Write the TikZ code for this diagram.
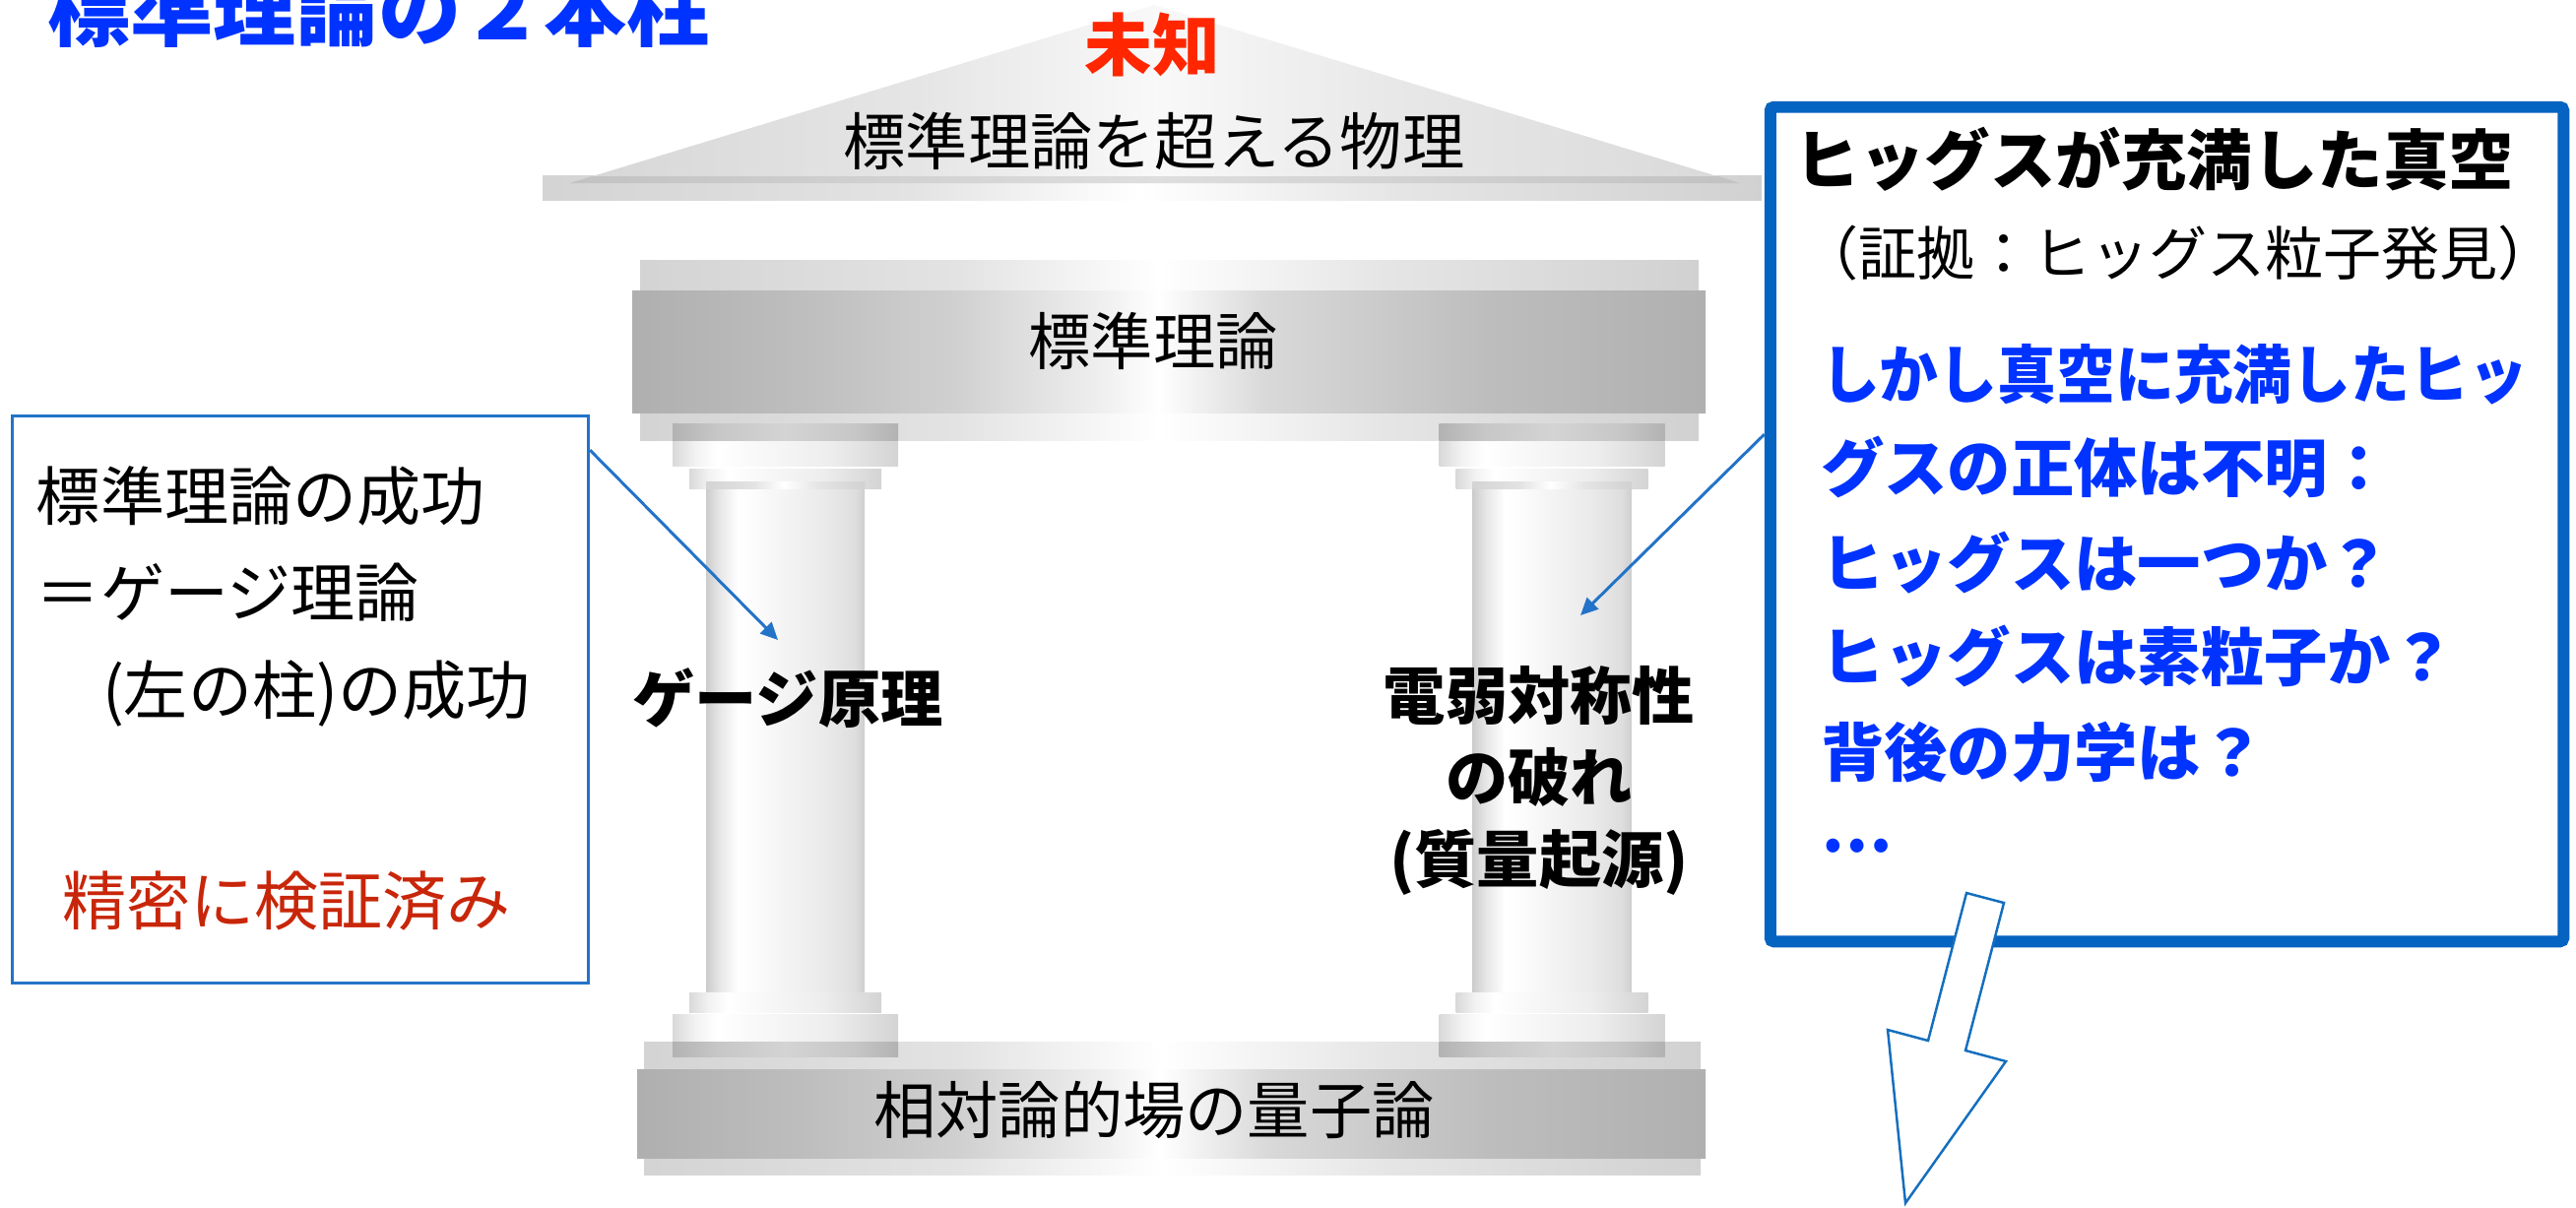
\documentclass[tikz,border=0pt]{standalone}
\usepackage{fontspec}
\usepackage{graphicx}
\setmainfont{Noto Sans CJK JP}
\usetikzlibrary{arrows.meta}

\definecolor{titleblue}{RGB}{0,51,255}
\definecolor{boxblue}{RGB}{5,99,193}
\definecolor{linkblue}{RGB}{35,115,200}
\definecolor{arrowblue}{RGB}{20,110,190}
\definecolor{unknownred}{RGB}{255,38,0}
\definecolor{checkred}{RGB}{200,38,10}

% metallic gradients (left to right), the path spans 25bp..75bp
\pgfdeclarehorizontalshading{beamdark}{100bp}{%
 rgb(0bp)=(.686,.686,.686); rgb(25bp)=(.686,.686,.686);
 rgb(33bp)=(.745,.745,.745); rgb(40bp)=(.815,.815,.82);
 rgb(47bp)=(.94,.94,.94); rgb(49.5bp)=(1,1,1);
 rgb(54.5bp)=(.85,.85,.85); rgb(65bp)=(.74,.74,.74);
 rgb(75bp)=(.69,.69,.69); rgb(100bp)=(.69,.69,.69)}
\pgfdeclarehorizontalshading{beamlight}{100bp}{%
 rgb(0bp)=(.83,.83,.83); rgb(25bp)=(.83,.83,.83);
 rgb(40bp)=(.89,.89,.89); rgb(49.5bp)=(1,1,1);
 rgb(60bp)=(.90,.90,.90); rgb(75bp)=(.82,.82,.82);
 rgb(100bp)=(.82,.82,.82)}
\pgfdeclarehorizontalshading{roof}{100bp}{%
 rgb(0bp)=(.84,.84,.84); rgb(25bp)=(.84,.84,.84);
 rgb(40bp)=(.90,.90,.90); rgb(50bp)=(.975,.975,.975);
 rgb(60bp)=(.91,.91,.91); rgb(75bp)=(.85,.85,.85);
 rgb(100bp)=(.85,.85,.85)}
\pgfdeclarehorizontalshading{roofband}{100bp}{%
 rgb(0bp)=(.76,.76,.76); rgb(25bp)=(.76,.76,.76);
 rgb(50bp)=(.87,.87,.87); rgb(75bp)=(.76,.76,.76);
 rgb(100bp)=(.76,.76,.76)}
\pgfdeclarehorizontalshading{column}{100bp}{%
 rgb(0bp)=(.80,.80,.80); rgb(25bp)=(.80,.80,.80);
 rgb(29bp)=(.90,.90,.90); rgb(35bp)=(1,1,1);
 rgb(40bp)=(.99,.99,.99); rgb(50bp)=(.955,.955,.955);
 rgb(62bp)=(.92,.92,.92); rgb(72bp)=(.87,.87,.87);
 rgb(75bp)=(.81,.81,.81); rgb(100bp)=(.81,.81,.81)}
\pgfdeclarehorizontalshading{capital}{100bp}{%
 rgb(0bp)=(.85,.85,.85); rgb(25bp)=(.85,.85,.85);
 rgb(30bp)=(.95,.95,.95); rgb(35bp)=(1,1,1);
 rgb(45bp)=(.97,.97,.97); rgb(60bp)=(.93,.93,.93);
 rgb(75bp)=(.83,.83,.83); rgb(100bp)=(.83,.83,.83)}
\pgfdeclarehorizontalshading{band}{100bp}{%
 rgb(0bp)=(.70,.70,.70); rgb(25bp)=(.70,.70,.70);
 rgb(35bp)=(.78,.78,.78); rgb(50bp)=(.83,.83,.83);
 rgb(65bp)=(.78,.78,.78); rgb(75bp)=(.70,.70,.70);
 rgb(100bp)=(.70,.70,.70)}

\newcommand\setfs[2]{\fontsize{#1}{#2}\selectfont}

\tikzset{
  txt/.style={inner sep=0pt, outer sep=0pt},
  plain/.style={txt, font=\setfs{18}{22}},
  notetext/.style={txt, anchor=west, font=\setfs{18.5}{22}},
  strong/.style={txt, font=\bfseries\setfs{18}{22}},
  question/.style={txt, anchor=west, text=titleblue, font=\bfseries\setfs{18.3}{22}},
  conn/.style={draw=linkblue, line width=0.85pt, -{Triangle[length=5pt, width=4.6pt]}},
}

\begin{document}
\begin{tikzpicture}[x=0.01cm, y=-0.01cm]
\useasboundingbox (0,0) rectangle (2616,1226);
\clip (0,0) rectangle (2616,1226);

% ---- roof ----
\shade[shading=beamlight] (551,178) rectangle (1789,203);
\shade[shading=roof] (579,186) -- (1172,5) -- (1767,186) -- cycle;
\shade[shading=roofband] (579,186) -- (601,179) -- (1745,179) -- (1767,186) -- cycle;
\node[txt, text=unknownred, font=\bfseries\setfs{19.5}{24}] (unknown) at (1170,45) {未知};
\node[plain] (beyond) at (1172,143) {標準理論を超える物理};

% ---- entablature ----
\shade[shading=beamlight] (650,264) rectangle (1725,447);
\shade[shading=beamdark] (642,295) rectangle (1732,419);
\node[plain] (sm) at (1171,346) {標準理論};

% ---- base ----
\shade[shading=beamlight] (654,1058) rectangle (1727,1193);
\shade[shading=beamdark] (647,1086) rectangle (1732,1176);
\node[plain] (qft) at (1172,1127) {相対論的場の量子論};

% ---- two columns ----
\foreach \cx in {797.5,1576} {
  \shade[shading=capital] (\cx-114.5,430) rectangle (\cx+114.5,473);
  \shade[shading=capital] (\cx-97.5,476) rectangle (\cx+97.5,496);
  \shade[shading=column] (\cx-80.5,489) rectangle (\cx+80.5,1010);
  \shade[shading=capital] (\cx-97.5,1008) rectangle (\cx+97.5,1028);
  \shade[shading=capital] (\cx-114.5,1030) rectangle (\cx+114.5,1073);
  \shade[shading=band] (\cx-114.5,430) rectangle (\cx+114.5,447);
  \shade[shading=band] (\cx-114.5,1058) rectangle (\cx+114.5,1073);
  \shade[shading=beamlight] (\cx-80.5,489) rectangle (\cx+80.5,496);
}
\node[strong] (gauge) at (800,709) {ゲージ原理};
\node[strong, align=center, font=\bfseries\setfs{18}{23.6}] (ewsb) at (1563,793)
  {電弱対称性\\の破れ\\(質量起源)};

% ---- left note ----
\node[draw=linkblue, line width=0.85pt, minimum width=5.85cm, minimum height=5.75cm,
      inner sep=0pt] (lbox) at (305,710.5) {};
\node[notetext] (l1) at (37,504) {標準理論の成功};
\node[notetext] (l2) at (37,602) {＝ゲージ理論};
\node[notetext] (l3) at (104,704) {(左の柱)の成功};
\node[notetext, text=checkred] (l4) at (63,915) {精密に検証済み};

% ---- right note ----
\node[draw=boxblue, line width=3.4pt, rounded corners=1pt, minimum width=8.05cm,
      minimum height=8.47cm, inner sep=0pt] (rbox) at (2200.5,532.5) {};
\node[txt, anchor=west, font=\bfseries\setfs{18.9}{22}] (h1) at (1822,162) {ヒッグスが充満した真空};
\node[txt, anchor=west, font=\setfs{16.8}{20}] (h2) at (1828,257) {（証拠：ヒッグス粒子発見）};
\node[question] (q1) at (1849,380) {\scalebox{0.93}[1]{しかし真空に充満したヒッ}};
\node[question] (q2) at (1849,475) {グスの正体は不明：};
\node[question] (q3) at (1849,572) {ヒッグスは一つか？};
\node[question] (q4) at (1849,667) {ヒッグスは素粒子か？};
\node[question] (q5) at (1849,764) {背後の力学は？};
\node[question] (q6) at (1849,859) {…};

% ---- pointers ----
\coordinate (gaugeTip) at (790,650);
\coordinate (ewTip) at (1605,625);
\draw[conn] ([yshift=-10.2pt]lbox.north east) -- (gaugeTip);
\draw[conn] ([yshift=-96.2pt]rbox.north west) -- (ewTip);

% ---- hollow arrow out of the right note ----
\draw[draw=arrowblue, line width=0.7pt, fill=white]
  (1997,907) -- (2035,917) -- (1996,1067) -- (2037,1078) -- (1935,1222)
  -- (1917,1046) -- (1958,1057) -- cycle;

% ---- heading ----
\node[txt, anchor=west, text=titleblue, font=\bfseries\setfs{23.9}{28}] (title) at (48,8) {標準理論の２本柱};
\end{tikzpicture}
\end{document}
